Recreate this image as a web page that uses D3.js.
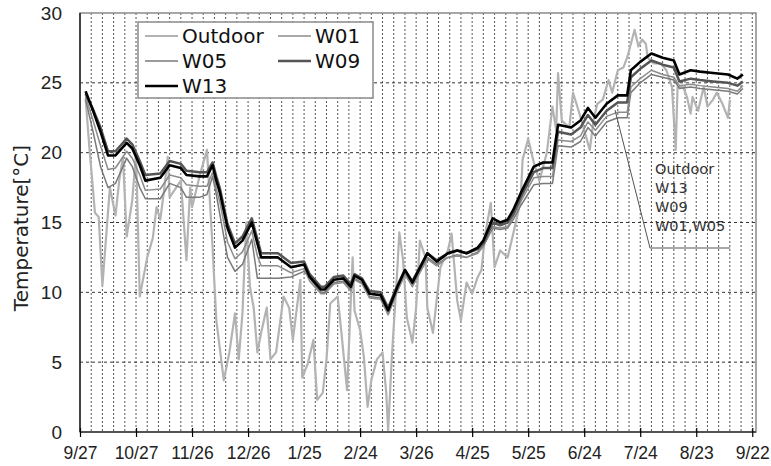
<!DOCTYPE html>
<html>
<head>
<meta charset="utf-8">
<script src="https://cdn.jsdelivr.net/npm/d3@7"></script>
<style>
body { margin: 0; background: #fff; }
svg { display: block; }
</style>
</head>
<body>
<svg id="chart" width="771" height="466"></svg>
<script>
// x in days counted from 9/27
var tickLabels = ["9/27", "10/27", "11/26", "12/26", "1/25", "2/24", "3/26", "4/25", "5/25", "6/24", "7/24", "8/23", "9/22"];
var yTicks = [0, 5, 10, 15, 20, 25, 30];

var wDays = [3, 7, 11, 15, 19, 25, 28, 32, 35, 43, 48, 54, 57, 64, 68, 71, 73, 75, 79, 83,
    87, 92, 95, 97, 106, 113, 120, 123, 129, 131, 136, 141, 145, 147, 151, 155, 161, 165, 170, 174,
    178, 186, 191, 197, 202, 207, 213, 216, 221, 225, 229, 232, 236, 243, 248, 253, 256, 263, 268, 272,
    276, 282, 288, 293, 295, 300, 306, 312, 318, 321, 327, 332, 339, 347, 352, 355];

var w13 = [24.4, 23.0, 21.5, 19.8, 19.8, 20.7, 20.3, 19.1, 18.0, 18.2, 19.1, 18.9, 18.4, 18.3, 18.3, 19.1, 18.0, 17.1, 14.6, 13.2,
    13.7, 15.0, 13.5, 12.5, 12.5, 11.8, 12.0, 11.1, 10.2, 10.2, 10.9, 11.0, 10.4, 11.2, 10.9, 9.9, 9.8, 8.7, 10.4, 11.6,
    10.7, 12.8, 12.2, 12.8, 13.0, 12.8, 13.2, 13.7, 15.3, 15.0, 15.2, 15.9, 17.1, 19.0, 19.3, 19.3, 22.0, 21.8, 22.3, 23.2,
    22.5, 23.5, 24.1, 24.1, 25.9, 26.5, 27.1, 26.8, 26.6, 25.6, 25.9, 25.8, 25.7, 25.6, 25.3, 25.6];

var w09 = [24.2, 23.1, 21.8, 20.1, 20.1, 21.0, 20.6, 19.4, 18.4, 18.5, 19.4, 19.2, 18.7, 18.6, 18.6, 19.3, 18.3, 17.4, 14.9, 13.5,
    14.0, 15.3, 13.8, 12.8, 12.8, 12.1, 12.2, 11.3, 10.4, 10.4, 11.1, 11.2, 10.6, 11.3, 11.0, 10.1, 10.0, 8.9, 10.5, 11.6,
    10.8, 12.8, 12.3, 12.8, 13.0, 12.8, 13.1, 13.5, 15.0, 14.8, 15.0, 15.6, 16.8, 18.6, 18.9, 18.9, 21.5, 21.3, 21.8, 22.7,
    22.0, 23.0, 23.6, 23.6, 25.4, 26.0, 26.6, 26.3, 26.1, 25.1, 25.3, 25.2, 25.1, 25.0, 24.8, 25.1];

var w01 = [24.0, 22.3, 20.5, 18.8, 18.9, 20.1, 19.6, 18.4, 17.3, 17.4, 18.4, 18.2, 17.7, 17.6, 17.6, 18.6, 17.4, 16.4, 13.6, 12.4,
    12.9, 14.4, 12.6, 11.9, 11.9, 11.4, 11.7, 10.8, 9.9, 9.9, 10.6, 10.7, 10.1, 10.9, 10.6, 9.6, 9.5, 8.4, 10.1, 11.3,
    10.4, 12.4, 11.9, 12.5, 12.6, 12.5, 12.8, 13.3, 14.7, 14.6, 14.7, 15.4, 16.5, 18.2, 18.3, 18.3, 20.9, 20.8, 21.2, 22.2,
    21.6, 22.6, 22.9, 22.9, 24.7, 25.3, 25.9, 25.6, 25.4, 24.8, 24.9, 24.8, 24.7, 24.6, 24.4, 24.8];

var w05 = [23.8, 21.5, 19.0, 17.5, 17.8, 19.6, 19.0, 17.5, 16.7, 16.7, 17.8, 17.5, 16.8, 16.8, 17.0, 18.3, 17.0, 15.5, 12.5, 11.5,
    12.0, 13.8, 11.0, 11.0, 11.0, 11.1, 11.5, 11.0, 10.0, 10.0, 10.7, 10.8, 10.2, 11.0, 10.7, 9.7, 9.6, 8.4, 10.1, 11.3,
    10.5, 12.5, 12.0, 12.5, 12.7, 12.5, 12.9, 13.3, 14.6, 14.5, 14.6, 15.2, 16.2, 17.7, 17.8, 17.8, 20.5, 20.4, 20.8, 21.8,
    21.2, 22.2, 22.5, 22.5, 24.3, 25.0, 25.6, 25.4, 25.2, 24.6, 24.7, 24.6, 24.5, 24.4, 24.2, 24.6];

var outDays = [3, 5, 7, 8, 10, 12, 14, 16, 19, 21, 23, 25, 28, 30, 32, 36, 39, 41, 43, 45,
    47, 48, 54, 57, 59, 60, 64, 68, 71, 73, 77, 80, 83, 85, 87, 89, 91, 93, 95, 97,
    100, 102, 105, 109, 112, 114, 118, 119, 122, 125, 127, 130, 132, 134, 138, 140, 143, 146, 147, 150,
    152, 154, 156, 159, 162, 164, 165, 167, 170, 171, 173, 175, 178, 180, 182, 185, 186, 189, 193, 197,
    199, 202, 204, 207, 210, 213, 215, 217, 220, 222, 225, 229, 232, 236, 237, 240, 243, 246, 250, 253,
    255, 256, 258, 262, 264, 267, 270, 273, 275, 277, 280, 283, 285, 288, 291, 293, 296, 297, 299, 301,
    303, 304, 307, 311, 314, 317, 319, 320, 323, 325, 327, 328, 331, 334, 336, 339, 341, 344, 347, 348];

var outdoor = [23.9, 20.4, 17.3, 15.7, 15.4, 10.5, 14.0, 17.5, 15.5, 18.0, 19.7, 14.0, 16.6, 20.0, 9.7, 12.5, 13.9, 16.1, 15.2, 17.3,
    19.7, 16.8, 18.0, 12.3, 17.5, 16.1, 18.3, 20.2, 13.2, 8.0, 3.7, 5.7, 8.5, 5.2, 8.5, 15.0, 10.4, 8.9, 5.7, 7.1,
    8.9, 5.2, 5.7, 9.7, 8.9, 6.6, 10.9, 3.9, 4.9, 6.6, 2.3, 2.8, 5.2, 9.2, 9.7, 7.1, 3.0, 12.5, 8.7, 7.3,
    5.4, 1.8, 3.7, 5.2, 5.7, 2.8, 0.1, 5.4, 11.8, 14.3, 12.3, 8.2, 6.4, 8.9, 13.7, 12.5, 8.9, 7.1, 11.8, 13.0,
    14.2, 9.4, 8.0, 10.7, 9.9, 11.1, 11.6, 14.2, 16.4, 11.8, 13.0, 12.5, 14.2, 16.6, 19.5, 21.0, 19.3, 18.0, 20.0, 23.3,
    21.6, 25.7, 22.3, 21.8, 24.3, 23.0, 21.6, 20.2, 22.3, 23.5, 23.8, 25.2, 24.3, 25.9, 26.1, 26.8, 28.3, 28.8, 27.6, 28.1,
    27.8, 26.8, 26.4, 26.4, 25.9, 24.7, 20.2, 24.7, 24.7, 24.0, 22.8, 24.0, 23.0, 24.7, 23.3, 23.8, 24.3, 23.5, 22.5, 23.8];

var annotationLabels = ["Outdoor", "W13", "W09", "W01,W05"];

var series = [
    { name: "Outdoor", days: outDays, vals: outdoor, color: "#b3b3b3", width: 2.2 },
    { name: "W05", days: wDays, vals: w05, color: "#7a7a7a", width: 1.5 },
    { name: "W01", days: wDays, vals: w01, color: "#8c8c8c", width: 1.5 },
    { name: "W09", days: wDays, vals: w09, color: "#555555", width: 2.5 },
    { name: "W13", days: wDays, vals: w13, color: "#000000", width: 2.6 }
];
var styleOf = {};
series.forEach(function(s) { styleOf[s.name] = s; });

var svg = d3.select("#chart");
var plotLeft = 80, plotRight = 756, plotTop = 13, plotBottom = 432;

var x = d3.scaleLinear().domain([0, 362]).range([plotLeft, plotRight]);
var y = d3.scaleLinear().domain([0, 30]).range([plotBottom, plotTop]);

// dotted vertical grid, every 6 days
svg.append("g")
    .selectAll("line")
    .data(d3.range(6, 361, 6))
    .enter().append("line")
    .attr("x1", function(d) { return x(d); })
    .attr("x2", function(d) { return x(d); })
    .attr("y1", plotTop)
    .attr("y2", plotBottom)
    .attr("stroke", "#555")
    .attr("stroke-width", 1)
    .attr("stroke-dasharray", "2,2");

// dashed horizontal grid
svg.append("g")
    .selectAll("line")
    .data(yTicks.slice(1, -1))
    .enter().append("line")
    .attr("x1", plotLeft)
    .attr("x2", plotRight)
    .attr("y1", function(d) { return y(d); })
    .attr("y2", function(d) { return y(d); })
    .attr("stroke", "#333")
    .attr("stroke-width", 1)
    .attr("stroke-dasharray", "3,3");

// frame
svg.append("rect")
    .attr("x", plotLeft).attr("y", plotTop)
    .attr("width", plotRight - plotLeft).attr("height", plotBottom - plotTop)
    .attr("fill", "none")
    .attr("stroke", "#8a8a8a")
    .attr("stroke-width", 1.5);

var line = d3.line()
    .x(function(d) { return x(d[0]); })
    .y(function(d) { return y(d[1]); });

series.forEach(function(s) {
    var pts = s.days.map(function(d, i) { return [d, s.vals[i]]; });
    svg.append("path")
        .datum(pts)
        .attr("d", line)
        .attr("fill", "none")
        .attr("stroke", s.color)
        .attr("stroke-width", s.width)
        .attr("stroke-linejoin", "round");
});

// axes
var xAxis = svg.append("g")
    .attr("transform", "translate(0," + plotBottom + ")")
    .call(d3.axisBottom(x)
        .tickValues(d3.range(0, 361, 30))
        .tickFormat(function(d, i) { return tickLabels[i]; })
        .tickSizeInner(5)
        .tickSizeOuter(0)
        .tickPadding(10));
xAxis.select(".domain").remove();
xAxis.selectAll(".tick line").attr("y1", -4).attr("stroke", "#000").attr("stroke-width", 1.2);
xAxis.selectAll("text")
    .attr("font-family", "Liberation Sans, Arial, sans-serif")
    .attr("font-size", "17.5px")
    .attr("fill", "#222");

var yAxis = svg.append("g")
    .attr("transform", "translate(" + plotLeft + ",0)")
    .call(d3.axisLeft(y).tickValues(yTicks).tickSize(0).tickPadding(18));
yAxis.select(".domain").remove();
yAxis.selectAll("text")
    .attr("font-family", "Liberation Sans, Arial, sans-serif")
    .attr("font-size", "19px")
    .attr("fill", "#222");

svg.append("line")
    .attr("x1", plotLeft).attr("x2", plotLeft).attr("y1", plotTop).attr("y2", plotBottom)
    .attr("stroke", "#000").attr("stroke-width", 1.2);
svg.append("line")
    .attr("x1", plotLeft).attr("x2", plotRight).attr("y1", plotBottom).attr("y2", plotBottom)
    .attr("stroke", "#000").attr("stroke-width", 1.2);

svg.append("text")
    .attr("transform", "translate(28,228) rotate(-90)")
    .attr("text-anchor", "middle")
    .attr("font-family", "DejaVu Sans, sans-serif")
    .attr("font-size", "20px")
    .attr("fill", "#222")
    .text("Temperature[°C]");

// legend
var legend = svg.append("g");
legend.append("rect")
    .attr("x", 138).attr("y", 22).attr("width", 235).attr("height", 76)
    .attr("fill", "#fff")
    .attr("stroke", "#8a8a8a")
    .attr("stroke-width", 1.5);

var legendItems = [
    { name: "Outdoor", col: 0, row: 0 },
    { name: "W01", col: 1, row: 0 },
    { name: "W05", col: 0, row: 1 },
    { name: "W09", col: 1, row: 1 },
    { name: "W13", col: 0, row: 2 }
];
legendItems.forEach(function(it) {
    var lx = it.col ? 278 : 145;
    var cy = 36 + it.row * 25;
    var st = styleOf[it.name];
    legend.append("line")
        .attr("x1", lx).attr("x2", lx + 33)
        .attr("y1", cy).attr("y2", cy)
        .attr("stroke", st.color)
        .attr("stroke-width", st.width);
    legend.append("text")
        .attr("x", lx + 37).attr("y", cy + 7)
        .attr("font-family", "DejaVu Sans, sans-serif")
        .attr("font-size", "20px")
        .attr("fill", "#111")
        .text(it.name);
});

// annotation with leader line
svg.append("path")
    .attr("d", "M615,110L650,248L730,248")
    .attr("fill", "none")
    .attr("stroke", "#555")
    .attr("stroke-width", 1);

svg.append("g")
    .selectAll("text")
    .data(annotationLabels)
    .enter().append("text")
    .attr("x", 655)
    .attr("y", function(d, i) { return 174 + i * 19; })
    .attr("font-family", "DejaVu Sans, sans-serif")
    .attr("font-size", "14.5px")
    .attr("fill", "#333")
    .text(function(d) { return d; });
</script>
</body>
</html>
